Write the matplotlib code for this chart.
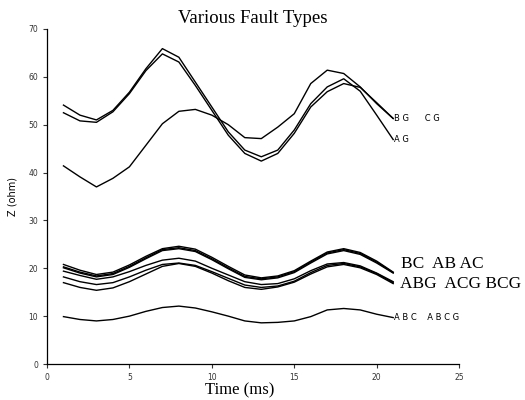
import numpy as np
import matplotlib
matplotlib.use('Agg')
import matplotlib.pyplot as plt

# time axis (ms)
t = np.arange(1, 22)

# upper group: single line-to-ground faults
z_ag = [54.1, 52.0, 51.0, 53.0, 56.8, 61.7, 65.9, 64.1, 58.9, 53.7, 48.5,
        44.7, 43.3, 44.7, 48.9, 54.4, 57.9, 59.6, 57.0, 52.0, 46.9]
z_bg = [52.5, 50.8, 50.5, 52.7, 56.5, 61.3, 64.8, 63.1, 58.2, 53.0, 47.8,
        44.0, 42.4, 44.0, 48.2, 53.7, 56.9, 58.6, 57.8, 54.6, 51.3]
z_cg = [41.4, 39.1, 37.0, 38.8, 41.2, 45.7, 50.2, 52.8, 53.2, 52.0, 50.0,
        47.3, 47.1, 49.5, 52.3, 58.6, 61.4, 60.7, 57.9, 54.4, 51.3]

# line-to-line faults
z_bc = [20.8, 19.6, 18.7, 19.2, 20.7, 22.5, 24.1, 24.6, 24.0, 22.3, 20.4,
        18.6, 18.0, 18.4, 19.5, 21.5, 23.4, 24.1, 23.3, 21.5, 19.2]
z_ab = [20.1, 19.0, 18.2, 18.7, 20.2, 22.0, 23.7, 24.1, 23.5, 21.8, 19.9,
        18.1, 17.6, 18.0, 19.1, 21.1, 23.0, 23.7, 22.9, 21.1, 19.0]
z_ac = [20.3, 19.2, 18.4, 18.9, 20.4, 22.2, 23.9, 24.3, 23.7, 22.0, 20.1,
        18.3, 17.8, 18.2, 19.3, 21.3, 23.2, 23.9, 23.1, 21.3, 19.1]

# double line-to-ground faults
z_abg = [19.4, 18.5, 17.7, 18.2, 19.3, 20.6, 21.7, 22.1, 21.5, 20.0, 18.6,
         17.2, 16.6, 16.8, 17.8, 19.5, 20.9, 21.2, 20.5, 19.0, 17.2]
z_acg = [18.2, 17.2, 16.6, 17.0, 18.2, 19.6, 20.8, 21.1, 20.6, 19.3, 17.9,
         16.5, 16.0, 16.3, 17.3, 19.1, 20.6, 21.0, 20.3, 18.9, 17.0]
z_bcg = [17.0, 16.0, 15.4, 15.9, 17.2, 18.8, 20.4, 21.0, 20.4, 19.0, 17.4,
         16.0, 15.6, 16.1, 17.1, 18.8, 20.3, 20.8, 20.1, 18.7, 16.8]

# three phase faults
z_abc = [9.9, 9.3, 9.0, 9.3, 10.0, 11.0, 11.8, 12.1, 11.7, 10.9, 10.0,
         9.0, 8.6, 8.7, 9.0, 9.9, 11.3, 11.6, 11.3, 10.4, 9.7]

curves = [z_ag, z_bg, z_cg, z_bc, z_ab, z_ac, z_abg, z_acg, z_bcg, z_abc]

serif = ['Liberation Serif', 'DejaVu Serif']

fig = plt.figure(figsize=(5.25, 4), dpi=100)
ax = fig.add_axes([0.0895, 0.09, 0.785, 0.8375])

for z in curves:
    ax.plot(t, z, color='black', linewidth=1.0)

# labels at the ends of the curves
ax.text(21.05, z_bg[-1], 'B G      C G', fontsize=6, va='center', ha='left')
ax.text(21.05, z_ag[-1], 'A G', fontsize=6, va='center', ha='left')
ax.text(21.5, 21.0, 'BC  AB AC', fontsize=12.5, family=serif, va='center', ha='left')
ax.text(21.4, 16.8, 'ABG  ACG BCG', fontsize=12.5, family=serif, va='center', ha='left')
ax.text(21.05, z_abc[-1], 'A B C    A B C G', fontsize=6, va='center', ha='left')

ax.set_xlim(0, 25)
ax.set_ylim(0, 70)
ax.set_xticks([0, 5, 10, 15, 20, 25])
ax.set_yticks([0, 10, 20, 30, 40, 50, 60, 70])
ax.tick_params(labelsize=5.5, length=3, width=0.8, colors='#333333')

for side in ['top', 'right']:
    ax.spines[side].set_visible(False)
for side in ['left', 'bottom']:
    ax.spines[side].set_linewidth(0.9)

ax.set_title('Various Fault Types', fontsize=13.5, family=serif, pad=4)
ax.set_xlabel('Time (ms)', fontsize=12, family=serif)
ax.xaxis.set_label_coords(0.468, -0.055)
ax.set_ylabel('Z (ohm)', fontsize=7)
ax.yaxis.set_label_coords(-0.072, 0.5)

fig.savefig('out.png', dpi=100)
